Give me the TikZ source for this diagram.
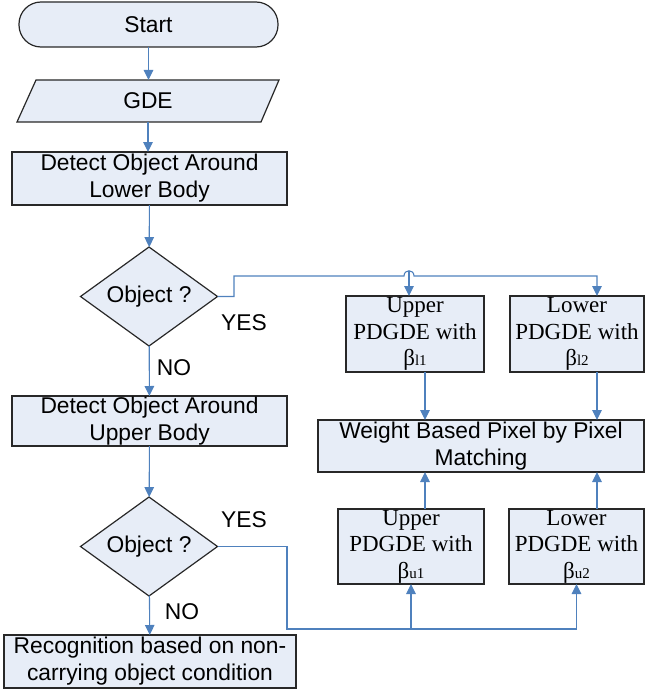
\documentclass[tikz,border=0pt]{standalone}
\usepackage{fontspec}
\setmainfont{Liberation Sans}
\newfontfamily\tmsfont{Liberation Serif}
\usetikzlibrary{shapes.geometric,arrows.meta,calc}
\definecolor{boxfill}{RGB}{231,237,247}
\definecolor{linecol}{RGB}{79,129,189}
\definecolor{bordercol}{RGB}{40,40,40}
\begin{document}
\begin{tikzpicture}[x=1pt,y=-1pt,
  every node/.style={inner sep=0pt,outer sep=0pt},
  sansbox/.style={draw=bordercol,line width=1.2pt,fill=boxfill,align=center,
    font=\fontsize{22.8}{27}\selectfont},
  serifbox/.style={draw=bordercol,line width=1.2pt,fill=boxfill,align=center,
    font=\tmsfont\fontsize{23}{26.5}\selectfont},
  decide/.style={diamond,draw=bordercol,line width=1.2pt,fill=boxfill,aspect=1.38,
    font=\fontsize{22.8}{27}\selectfont},
  lbl/.style={font=\fontsize{22.8}{27}\selectfont},
  conn/.style={draw=linecol,line width=1.1pt},
  arr/.style={conn,-{Triangle[length=10pt,width=9.5pt]}}
]
\useasboundingbox (0,0) rectangle (645,690);
\newcommand{\sbs}[1]{{\fontsize{15}{15}\selectfont #1}}

% left column
\node[sansbox,rounded corners=22pt,minimum width=259pt,minimum height=45pt] (start) at (148.5,24.5) {Start};
\draw[bordercol,line width=1.2pt,fill=boxfill] (36,80) -- (279,80) -- (261,122) -- (17,122) -- cycle;
\node[minimum width=244pt,minimum height=42pt,font=\fontsize{22.8}{27}\selectfont] (gde) at (148,101) {GDE};
\node[sansbox,minimum width=275pt,minimum height=53pt] (detL) at (149.5,178.5) {Detect Object Around\\Lower Body};
\node[decide,minimum width=137pt,minimum height=99pt] (d1) at (149,296.5) {Object ?};
\node[sansbox,minimum width=275pt,minimum height=50pt] (detU) at (149.5,421) {Detect Object Around\\Upper Body};
\node[decide,minimum width=137pt,minimum height=99pt] (d2) at (149,546.5) {Object ?};
\node[sansbox,minimum width=292pt,minimum height=53pt] (rec) at (150,661.5) {Recognition based on non-\\carrying object condition};

% right column
\node[serifbox,minimum width=138pt,minimum height=76pt] (upL) at (415,334) {Upper\\PDGDE with\\β\sbs{l1}};
\node[serifbox,minimum width=134pt,minimum height=76pt] (loL) at (577,334) {Lower\\PDGDE with\\β\sbs{l2}};
\node[sansbox,minimum width=326pt,minimum height=52pt] (wt) at (481,446) {Weight Based Pixel by Pixel\\Matching};
\node[serifbox,minimum width=146pt,minimum height=75pt] (upU) at (411,546.5) {Upper\\PDGDE with\\β\sbs{u1}};
\node[serifbox,minimum width=135pt,minimum height=75pt] (loU) at (576.5,546.5) {Lower\\PDGDE with\\β\sbs{u2}};

% labels
\node[lbl] (yes1) at (244,323) {YES};
\node[lbl] (no1) at (174,368) {NO};
\node[lbl] (yes2) at (244,520) {YES};
\node[lbl] (no2) at (182,612) {NO};

% helper coordinates
\coordinate (j1) at (234,276);
\coordinate (hop) at (409,276);
\coordinate (ca) at (425,0);
\coordinate (cb) at (597,0);
\coordinate (j3) at (287,629);

% left column connectors
\draw[arr] (start) -- (start.south |- gde.north);
\draw[arr] (gde.south) -- (gde.south |- detL.north);
\draw[arr] (detL) -- (d1);
\draw[arr] (d1) -- (detU);
\draw[arr] (detU) -- (d2);
\draw[arr] (d2) -- (rec);

% YES branch 1
\draw[arr] (d1.east) -| (j1) -- ($(hop)+(-5,0)$)
  .. controls +(0,-7) and +(0,-7) .. ($(hop)+(5,0)$) -| (cb |- loL.north);
\draw[arr] ($(hop)+(0,-5)$) -- (hop |- upL.north);

% into weight
\draw[arr] (upL.south -| ca) -- (wt.north -| ca);
\draw[arr] (loL.south -| cb) -- (wt.north -| cb);
\draw[arr] (upU.north -| ca) -- (wt.south -| ca);
\draw[arr] (loU.north -| cb) -- (wt.south -| cb);

% YES branch 2
\draw[arr] (d2.east) -| (j3) -| (loU.south);
\draw[arr] (upU.south |- j3) -- (upU.south);
\end{tikzpicture}
\end{document}
